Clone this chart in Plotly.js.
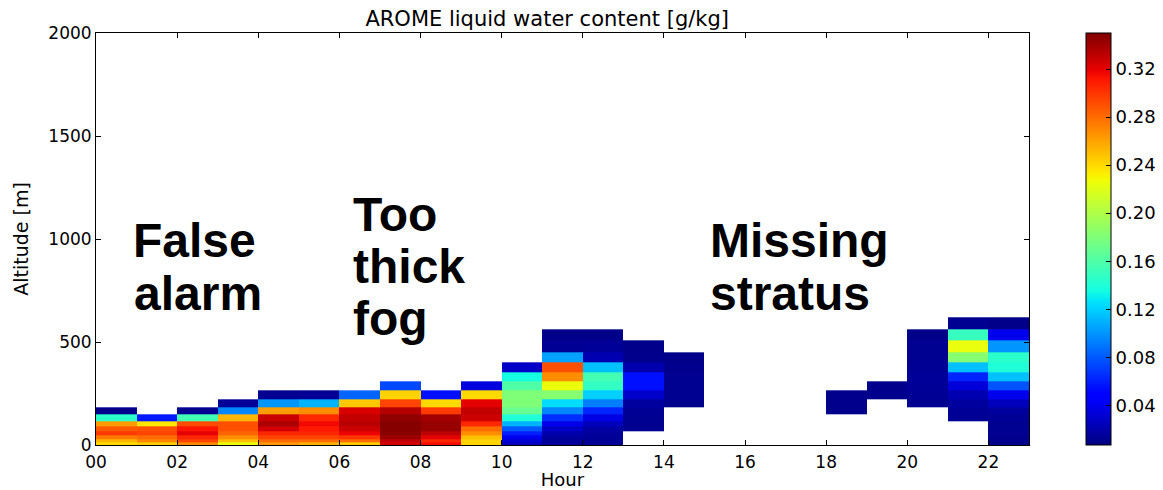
<!DOCTYPE html>
<html>
<head>
<meta charset="utf-8">
<script src="https://cdn.plot.ly/plotly-3.0.1.min.js"></script>
<style>
  html, body { margin: 0; padding: 0; background: #ffffff; }
  #chart { width: 1163px; height: 490px; }
</style>
</head>
<body>
<div id="chart"></div>
<script>
// Hour boundaries of each column (UTC hours 00 .. 23)
const hourEdges = [0, 1, 2, 3, 4, 5, 6, 7, 8, 9, 10, 11, 12, 13, 14, 15, 16, 17, 18, 19, 20, 21, 22, 23];

// Model level boundaries (altitude in m), lowest level first
const levelEdges = [0, 12, 28, 46, 66, 89, 116, 147, 184, 224, 265, 307, 352, 400, 452, 506, 562, 620];

// Liquid water content profiles [g/kg], one per hour, from the lowest level upward
const lwc00 = [0.24, 0.253, 0.275, 0.298, 0.287, 0.262, 0.145, 0.011];
const lwc01 = [0.245, 0.27, 0.28, 0.295, 0.29, 0.236, 0.058];
const lwc02 = [0.27, 0.295, 0.305, 0.32, 0.312, 0.292, 0.155, 0.012];
const lwc03 = [0.225, 0.25, 0.268, 0.283, 0.29, 0.29, 0.253, 0.095, 0.014];
const lwc04 = [0.265, 0.28, 0.295, 0.305, 0.325, 0.337, 0.328, 0.262, 0.1, 0.012];
const lwc05 = [0.255, 0.28, 0.295, 0.305, 0.31, 0.316, 0.305, 0.268, 0.11, 0.013];
const lwc06 = [0.246, 0.28, 0.3, 0.318, 0.327, 0.333, 0.33, 0.323, 0.246, 0.084];
const lwc07 = [0.325, 0.33, 0.342, 0.347, 0.348, 0.348, 0.345, 0.335, 0.295, 0.243, 0.074];
const lwc08 = [0.315, 0.305, 0.32, 0.332, 0.343, 0.343, 0.34, 0.298, 0.24, 0.055];
const lwc09 = [0.242, 0.242, 0.25, 0.268, 0.28, 0.305, 0.327, 0.33, 0.32, 0.24, 0.035];
const lwc10 = [0.025, 0.032, 0.04, 0.06, 0.08, 0.11, 0.14, 0.17, 0.18, 0.18, 0.16, 0.136, 0.028];
const lwc11 = [0.014, 0.014, 0.016, 0.02, 0.028, 0.038, 0.065, 0.095, 0.124, 0.183, 0.225, 0.268, 0.29, 0.104, 0.013, 0.01];
const lwc12 = [0.013, 0.013, 0.014, 0.015, 0.018, 0.025, 0.036, 0.062, 0.092, 0.12, 0.148, 0.155, 0.115, 0.022, 0.014, 0.01];
const lwc13 = [null, null, null, null, 0.012, 0.012, 0.012, 0.013, 0.016, 0.03, 0.055, 0.055, 0.02, 0.011, 0.01];
const lwc14 = [null, null, null, null, null, null, null, null, 0.011, 0.012, 0.012, 0.012, 0.011, 0.01];
const lwc15 = [];
const lwc16 = [];
const lwc17 = [];
const lwc18 = [null, null, null, null, null, null, null, 0.011, 0.011, 0.011];
const lwc19 = [null, null, null, null, null, null, null, null, null, 0.011, 0.011];
const lwc20 = [null, null, null, null, null, null, null, null, 0.012, 0.013, 0.014, 0.014, 0.013, 0.012, 0.012, 0.01];
const lwc21 = [null, null, null, null, null, null, 0.013, 0.014, 0.016, 0.022, 0.033, 0.062, 0.115, 0.183, 0.224, 0.15, 0.012];
const lwc22 = [0.011, 0.011, 0.011, 0.012, 0.012, 0.012, 0.013, 0.016, 0.025, 0.04, 0.078, 0.115, 0.14, 0.145, 0.1, 0.04, 0.01];

const profiles = [lwc00, lwc01, lwc02, lwc03, lwc04, lwc05, lwc06, lwc07, lwc08, lwc09, lwc10, lwc11,
                  lwc12, lwc13, lwc14, lwc15, lwc16, lwc17, lwc18, lwc19, lwc20, lwc21, lwc22];

// Axis and colour bar ticks
const hourTickVals = [0, 2, 4, 6, 8, 10, 12, 14, 16, 18, 20, 22];
const hourTickText = ['00', '02', '04', '06', '08', '10', '12', '14', '16', '18', '20', '22'];
const altTickVals = [0, 500, 1000, 1500, 2000];
const cbTickVals = [0.04, 0.08, 0.12, 0.16, 0.20, 0.24, 0.28, 0.32];
const cbTickText = ['0.04', '0.08', '0.12', '0.16', '0.20', '0.24', '0.28', '0.32'];

// Build the level x hour grid (rows = levels, columns = hours)
const nLevels = levelEdges.length - 1;
const z = [];
for (let r = 0; r < nLevels; r++) {
  const row = [];
  for (let c = 0; c < profiles.length; c++) {
    const v = profiles[c][r];
    row.push(v === undefined ? null : v);
  }
  z.push(row);
}

// Classic "jet" colour map (piecewise linear)
const jet = [
  [0.0, 'rgb(0,0,128)'],
  [0.11, 'rgb(0,0,255)'],
  [0.125, 'rgb(0,0,255)'],
  [0.34, 'rgb(0,219,255)'],
  [0.35, 'rgb(0,229,247)'],
  [0.375, 'rgb(20,255,226)'],
  [0.64, 'rgb(239,255,8)'],
  [0.65, 'rgb(247,245,0)'],
  [0.66, 'rgb(255,236,0)'],
  [0.89, 'rgb(255,19,0)'],
  [0.91, 'rgb(232,0,0)'],
  [1.0, 'rgb(128,0,0)']
];

const tickFont = { family: 'DejaVu Sans, sans-serif', size: 17, color: '#000' };

const trace = {
  type: 'heatmap',
  x: hourEdges,
  y: levelEdges,
  z: z,
  zmin: 0.007,
  zmax: 0.35,
  colorscale: jet,
  zsmooth: false,
  hoverongaps: false,
  colorbar: {
    x: 1.061,
    xanchor: 'left',
    xref: 'paper',
    xpad: 0,
    y: 0.5,
    yanchor: 'middle',
    ypad: 0,
    len: 1.0,
    lenmode: 'fraction',
    thickness: 25,
    thicknessmode: 'pixels',
    outlinewidth: 1,
    outlinecolor: '#000',
    tickmode: 'array',
    tickvals: cbTickVals,
    ticktext: cbTickText,
    ticks: 'inside',
    ticklen: 5,
    tickcolor: '#000',
    tickfont: { family: 'DejaVu Sans, sans-serif', size: 18, color: '#000' }
  }
};

// Big bold comments written over the chart
const labelFont = { family: 'Liberation Sans, Arial, sans-serif', size: 48, color: '#000', weight: 'bold' };
const notes = [
  { text: 'False', x: 0.88, y: 991 },
  { text: 'alarm', x: 0.92, y: 736 },
  { text: 'Too', x: 6.32, y: 1119 },
  { text: 'thick', x: 6.32, y: 867 },
  { text: 'fog', x: 6.32, y: 615 },
  { text: 'Missing', x: 15.1, y: 993 },
  { text: 'stratus', x: 15.12, y: 736 }
];
const annotations = notes.map(n => ({
  text: '<b>' + n.text + '</b>',
  x: n.x, y: n.y, xref: 'x', yref: 'y',
  xanchor: 'left', yanchor: 'middle',
  showarrow: false,
  borderpad: 0,
  font: labelFont
}));

const layout = {
  width: 1163,
  height: 490,
  margin: { l: 96, r: 134, t: 33, b: 45, pad: 0, autoexpand: false },
  paper_bgcolor: '#ffffff',
  plot_bgcolor: '#ffffff',
  title: {
    text: 'AROME liquid water content [g/kg]',
    font: { family: 'DejaVu Sans, sans-serif', size: 21, color: '#000' },
    x: 0.4836, xanchor: 'center', xref: 'paper',
    y: 0.962, yanchor: 'middle', yref: 'container'
  },
  xaxis: {
    range: [0, 23],
    tickmode: 'array',
    tickvals: hourTickVals,
    ticktext: hourTickText,
    ticks: 'inside',
    ticklen: 5,
    tickcolor: '#000',
    showline: true,
    linecolor: '#000',
    linewidth: 1,
    mirror: 'ticks',
    showgrid: false,
    zeroline: false,
    tickfont: tickFont,
    ticklabelstandoff: 2,
    automargin: false,
    title: { text: 'Hour', font: { family: 'DejaVu Sans, sans-serif', size: 18, color: '#000' }, standoff: 5 }
  },
  yaxis: {
    range: [0, 2000],
    tickmode: 'array',
    tickvals: altTickVals,
    ticks: 'inside',
    ticklen: 5,
    tickcolor: '#000',
    showline: true,
    linecolor: '#000',
    linewidth: 1,
    mirror: 'ticks',
    showgrid: false,
    zeroline: false,
    tickfont: tickFont,
    automargin: false,
    title: { text: 'Altitude [m]', font: { family: 'DejaVu Sans, sans-serif', size: 19, color: '#000' }, standoff: 14 }
  },
  annotations: annotations,
  showlegend: false
};

Plotly.newPlot('chart', [trace], layout, { displayModeBar: false, staticPlot: true });
</script>
</body>
</html>
